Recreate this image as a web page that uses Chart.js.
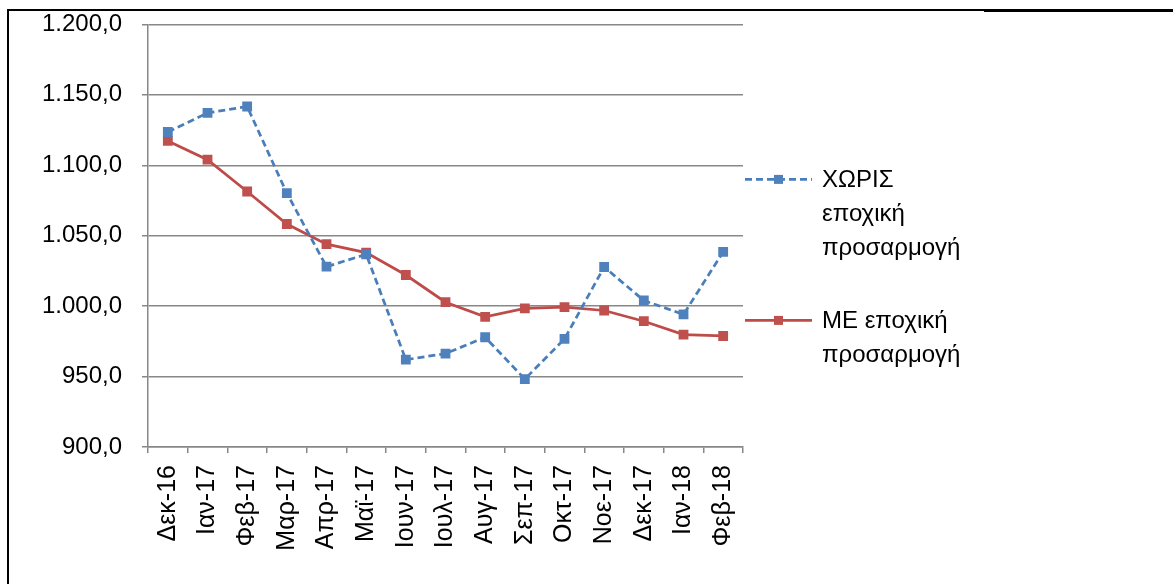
<!DOCTYPE html>
<html lang="el">
<head>
  <meta charset="UTF-8" />
  <title>Δείκτης</title>
  <script src="https://cdn.jsdelivr.net/npm/chart.js"></script>
  <style>
    body {
      margin: 0;
      background: #fff;
      font-family: "Liberation Sans", Arial, sans-serif;
      overflow: hidden;
    }

    .frame {
      position: absolute;
      left: 0;
      top: -10px;
      width: 1173px;
      height: 594px;
    }

    .border-top {
      position: absolute;
      left: 7px;
      top: 9px;
      width: 1166px;
      height: 2px;
      background: #000;
    }

    .border-top-thick {
      position: absolute;
      left: 984px;
      top: 9px;
      width: 189px;
      height: 3px;
      background: #000;
    }

    .border-left {
      position: absolute;
      left: 7px;
      top: 9px;
      width: 2px;
      height: 575px;
      background: #000;
    }
  </style>
</head>

<body>
  <div class="frame">
    <canvas id="chart" width="1173" height="594"></canvas>
  </div>
  <div class="border-top"></div>
  <div class="border-top-thick"></div>
  <div class="border-left"></div>

  <script>
    const months = ['Δεκ-16', 'Ιαν-17', 'Φεβ-17', 'Μαρ-17', 'Απρ-17', 'Μαϊ-17', 'Ιουν-17', 'Ιουλ-17',
      'Αυγ-17', 'Σεπ-17', 'Οκτ-17', 'Νοε-17', 'Δεκ-17', 'Ιαν-18', 'Φεβ-18'];

    const withoutAdj = [1123.6, 1137.2, 1141.7, 1080.2, 1028.0, 1036.8, 962.0, 966.3,
      977.9, 948.2, 976.7, 1027.8, 1004.0, 994.1, 1038.5];

    const withAdj = [1117.3, 1104.0, 1081.4, 1058.3, 1044.0, 1038.0, 1022.1, 1002.8,
      992.4, 998.4, 999.3, 996.9, 989.3, 979.8, 978.8];

    const legendWithout = ['ΧΩΡΙΣ', 'εποχική', 'προσαρμογή'];
    const legendWith = ['ΜΕ εποχική', 'προσαρμογή'];

    const yMin = 900, yMax = 1200, yStep = 50;

    // 1.200,0 style
    function formatNumber(v) {
      const parts = v.toFixed(1).split('.');
      const int = parts[0].replace(/\B(?=(\d{3})+(?!\d))/g, '.');
      return int + ',' + parts[1];
    }

    const gridGray = '#888888';
    const fontFamily = '"Liberation Sans", Arial, sans-serif';

    // legend drawn by hand so the labels can wrap over several lines
    const sideLegend = {
      id: 'sideLegend',
      afterDraw(chart) {
        const ctx = chart.ctx;
        const x0 = chart.chartArea.right + 2;
        const top = chart.chartArea.top;
        const items = [
          { ds: chart.data.datasets[0], lines: legendWithout, y: top + 155 },
          { ds: chart.data.datasets[1], lines: legendWith, y: top + 296 }
        ];
        ctx.save();
        items.forEach(it => {
          ctx.strokeStyle = it.ds.borderColor;
          ctx.lineWidth = it.ds.borderWidth;
          ctx.setLineDash(it.ds.borderDash || []);
          ctx.beginPath();
          ctx.moveTo(x0, it.y);
          ctx.lineTo(x0 + 67, it.y);
          ctx.stroke();
          ctx.setLineDash([]);
          ctx.fillStyle = it.ds.pointBackgroundColor;
          ctx.fillRect(x0 + 29, it.y - 4.5, 9, 9);

          ctx.fillStyle = '#000';
          ctx.font = '24px ' + fontFamily;
          ctx.textBaseline = 'middle';
          ctx.textAlign = 'left';
          it.lines.forEach((t, i) => {
            ctx.fillText(t, x0 + 77, it.y + 1 + i * 34);
          });
        });
        ctx.restore();
      }
    };

    new Chart(document.getElementById('chart'), {
      type: 'line',
      data: {
        labels: months,
        datasets: [{
          label: legendWithout.join(' '),
          data: withoutAdj,
          borderColor: '#4A7EBB',
          backgroundColor: '#4F81BD',
          pointBackgroundColor: '#4F81BD',
          pointBorderColor: '#4F81BD',
          borderWidth: 2.75,
          borderDash: [7, 4],
          pointStyle: 'rect',
          pointRadius: 5,
          tension: 0
        }, {
          label: legendWith.join(' '),
          data: withAdj,
          borderColor: '#BE4B48',
          backgroundColor: '#C0504D',
          pointBackgroundColor: '#C0504D',
          pointBorderColor: '#C0504D',
          borderWidth: 2.75,
          pointStyle: 'rect',
          pointRadius: 5,
          tension: 0
        }]
      },
      options: {
        responsive: false,
        animation: false,
        layout: {
          padding: { top: 4, right: 430, left: 0, bottom: 0 }
        },
        plugins: {
          legend: { display: false },
          tooltip: { enabled: false }
        },
        scales: {
          x: {
            offset: true,
            grid: {
              offset: true,
              drawOnChartArea: false,
              drawTicks: true,
              tickLength: 6,
              color: gridGray,
              lineWidth: 1.5
            },
            border: { display: true, color: gridGray, width: 1.5 },
            ticks: {
              color: '#000',
              font: { size: 25, family: fontFamily },
              minRotation: 90,
              maxRotation: 90,
              autoSkip: false,
              padding: 12
            },
            afterFit(scale) { scale.height = 137; }
          },
          y: {
            min: yMin,
            max: yMax,
            grid: {
              color: gridGray,
              lineWidth: 1.5,
              tickLength: 6
            },
            border: { display: true, color: gridGray, width: 1.5 },
            ticks: {
              stepSize: yStep,
              color: '#000',
              font: { size: 24, family: fontFamily },
              padding: 20,
              callback: v => formatNumber(v)
            },
            afterFit(scale) { scale.width = 148; }
          }
        }
      },
      plugins: [sideLegend]
    });
  </script>
</body>

</html>
